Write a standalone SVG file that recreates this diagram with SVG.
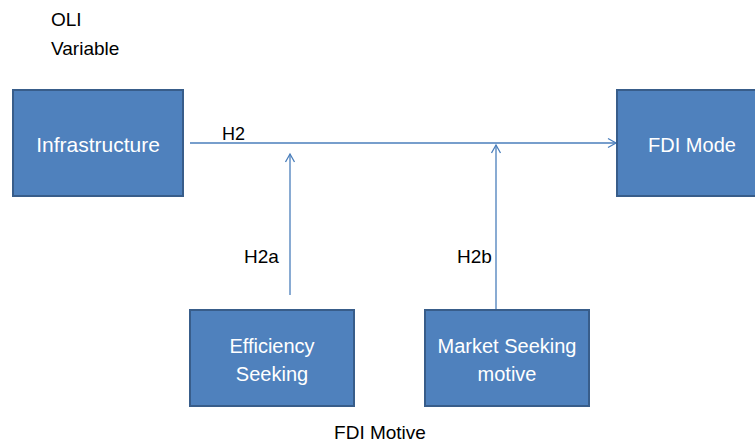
<svg xmlns="http://www.w3.org/2000/svg" width="755" height="446" viewBox="0 0 755 446">
<style>
.box{fill:#4F81BD;stroke:#385D8A;stroke-width:2}
.bt{font-family:"Liberation Sans",Arial,sans-serif;font-size:20px;fill:#FFFFFF;text-anchor:middle}
.lt{font-family:"Liberation Sans",Arial,sans-serif;font-size:19px;fill:#000000}
.con{stroke:#4A7EBB;stroke-width:1.3;fill:none}
</style>
<defs>
<marker id="arr" markerUnits="userSpaceOnUse" markerWidth="12" markerHeight="12" viewBox="-1 -6 11 12" refX="8" refY="0" orient="auto">
<path d="M0,-4.5 L8,0 L0,4.5" fill="none" stroke="#4A7EBB" stroke-width="1.3"/>
</marker>
</defs>
<rect width="755" height="446" fill="#FFFFFF"/>
<g id="labels">
<text class="lt" x="51" y="26">OLI</text>
<text class="lt" x="51" y="55">Variable</text>
<text class="lt" x="222" y="140" style="font-size:18px">H2</text>
<text class="lt" x="244" y="263">H2a</text>
<text class="lt" x="457" y="263">H2b</text>
<text class="lt" x="380" y="439" text-anchor="middle">FDI Motive</text>
</g>
<g id="connectors">
<line class="con" x1="190" y1="143" x2="616" y2="143" marker-end="url(#arr)"/>
<line class="con" x1="290" y1="295" x2="290" y2="154" marker-end="url(#arr)"/>
<line class="con" x1="496" y1="309" x2="496" y2="145" marker-end="url(#arr)"/>
</g>
<g id="infrastructure">
<rect class="box" x="13" y="90" width="170" height="106"/>
<text class="bt" x="98" y="152" style="font-size:21px">Infrastructure</text>
</g>
<g id="fdi-mode">
<rect class="box" x="617" y="90" width="150" height="106"/>
<text class="bt" x="692" y="152">FDI Mode</text>
</g>
<g id="efficiency-seeking">
<rect class="box" x="190" y="310" width="164" height="96"/>
<text class="bt" x="272" y="353">Efficiency</text>
<text class="bt" x="272" y="381">Seeking</text>
</g>
<g id="market-seeking">
<rect class="box" x="425" y="310" width="164" height="96"/>
<text class="bt" x="507" y="353">Market Seeking</text>
<text class="bt" x="507" y="381">motive</text>
</g>
</svg>
